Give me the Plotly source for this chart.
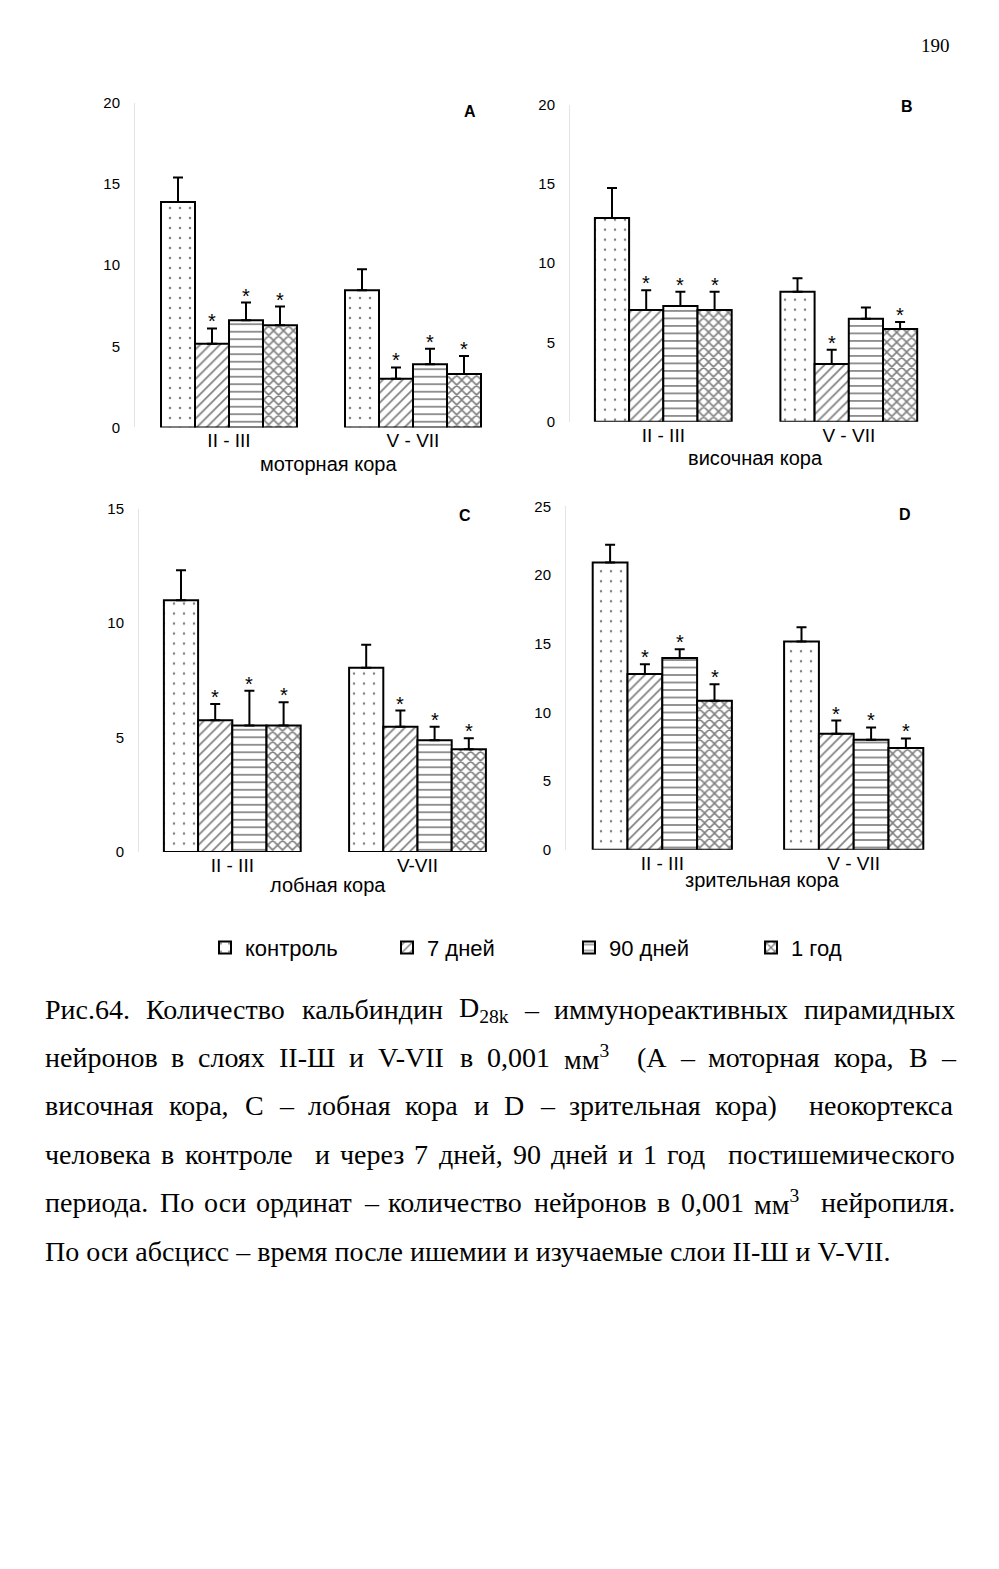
import glob
import re
import struct
import plotly.graph_objects as go

W, H = 999, 1569

# ---------------- data ----------------
layers = ["II-III", "V-VII"]
series_names = ["контроль", "7 дней", "90 дней", "1 год"]

# Panel A – моторная кора (mean, SD)
a_control = [13.9, 8.45]
a_control_err = [1.5, 1.3]
a_d7 = [5.15, 3.0]
a_d7_err = [0.95, 0.7]
a_d90 = [6.6, 3.9]
a_d90_err = [1.1, 0.95]
a_y1 = [6.3, 3.3]
a_y1_err = [1.15, 1.1]
a_stars = [[False, False], [True, True], [True, True], [True, True]]
a_ticks = ["II - III", "V - VII"]

# Panel B – височная кора
b_control = [12.85, 8.2]
b_control_err = [1.9, 0.85]
b_d7 = [7.05, 3.65]
b_d7_err = [1.25, 0.9]
b_d90 = [7.3, 6.5]
b_d90_err = [0.9, 0.7]
b_y1 = [7.05, 5.85]
b_y1_err = [1.15, 0.45]
b_stars = [[False, False], [True, True], [True, False], [True, True]]
b_ticks = ["II - III", "V - VII"]

# Panel C – лобная кора
c_control = [11.0, 8.05]
c_control_err = [1.3, 1.0]
c_d7 = [5.76, 5.47]
c_d7_err = [0.7, 0.71]
c_d90 = [5.53, 4.88]
c_d90_err = [1.51, 0.59]
c_y1 = [5.53, 4.49]
c_y1_err = [1.01, 0.48]
c_stars = [[False, False], [True, True], [True, True], [True, True]]
c_ticks = ["II - III", "V-VII"]

# Panel D – зрительная кора
d_control = [20.9, 15.15]
d_control_err = [1.3, 1.05]
d_d7 = [12.8, 8.45]
d_d7_err = [0.7, 0.95]
d_d90 = [13.95, 8.0]
d_d90_err = [0.65, 0.9]
d_y1 = [10.85, 7.4]
d_y1_err = [1.2, 0.7]
d_stars = [[False, False], [True, True], [True, True], [True, True]]
d_ticks = ["II - III", "V - VII"]

panel_letters = ["A", "B", "C", "D"]
panel_titles = ["моторная кора", "височная кора", "лобная кора", "зрительная кора"]
y_max = [20, 20, 15, 25]

caption_lines = [
    "Рис.64. Количество кальбиндин D<sub>28k</sub> – иммунореактивных пирамидных",
    "нейронов в слоях II-Ш и V-VII в 0,001 мм<sup>3</sup>  (А – моторная кора, В –",
    "височная кора, С – лобная кора и D – зрительная кора)  неокортекса",
    "человека в контроле  и через 7 дней, 90 дней и 1 год  постишемического",
    "периода. По оси ординат – количество нейронов в 0,001 мм<sup>3</sup>  нейропиля.",
    "По оси абсцисс – время после ишемии и изучаемые слои II-Ш и V-VII.",
]
page_number = "190"

# ---------------- style ----------------
SANS = "Liberation Sans, Arial, sans-serif"
SERIF = "Liberation Serif, Times New Roman, serif"
CAP_SIZE = 28
patterns = [
    dict(shape=".", size=10, solidity=0.05, fgcolor="black", bgcolor="white"),
    dict(shape="/", size=7, solidity=0.24, fgcolor="black", bgcolor="white"),
    dict(shape="-", size=7.5, solidity=0.22, fgcolor="black", bgcolor="white"),
    dict(shape="x", size=7, solidity=0.4, fgcolor="black", bgcolor="white"),
]

geom = [
    dict(xl=135, xr=500, c0=229, c1=413, bw=34, y0=423, yt=95),
    dict(xl=570, xr=935, c0=663.3, c1=848.8, bw=34.2, y0=417.3, yt=96.7),
    dict(xl=139, xr=500, c0=232.3, c1=417.5, bw=34.2, y0=852.3, yt=505),
    dict(xl=566, xr=935, c0=662.3, c1=853.7, bw=34.8, y0=850, yt=502.7),
]
letter_pos = [(470, 104), (907, 99), (465, 512), (905, 511)]
title_pos = [(328, 460), (755, 454), (328, 886), (762, 881)]
caption_y = [1011, 1060, 1109, 1158, 1207, 1256]
cap_left, cap_right = 44, 954


def xp(px):
    return px / W


def yp(py):
    return 1 - py / H


# ---- glyph widths of Liberation Serif (for justified caption lines) ----
def load_width_fn():
    paths = []
    for root in ["/usr/share/fonts", "/usr/local/share/fonts", "/usr/share/fonts/truetype"]:
        paths += glob.glob(root + "/**/LiberationSerif-Regular.ttf", recursive=True)
    if not paths:
        return lambda ch: 0.25 if ch == " " else 0.5
    try:
        data = open(paths[0], "rb").read()
        num = struct.unpack(">H", data[4:6])[0]
        tables = {}
        for i in range(num):
            tag, _, off, ln = struct.unpack(">4sIII", data[12 + 16 * i:28 + 16 * i])
            tables[tag.decode("latin1")] = off
        upem = struct.unpack(">H", data[tables["head"] + 18:tables["head"] + 20])[0]
        nhm = struct.unpack(">H", data[tables["hhea"] + 34:tables["hhea"] + 36])[0]
        ho = tables["hmtx"]
        adv = [struct.unpack(">H", data[ho + 4 * i:ho + 4 * i + 2])[0] for i in range(nhm)]
        co = tables["cmap"]
        n = struct.unpack(">H", data[co + 2:co + 4])[0]
        sub = None
        for i in range(n):
            pid, eid, off = struct.unpack(">HHI", data[co + 4 + 8 * i:co + 12 + 8 * i])
            fmt = struct.unpack(">H", data[co + off:co + off + 2])[0]
            if fmt == 4 and pid == 3 and eid == 1:
                sub = co + off
        segx2 = struct.unpack(">H", data[sub + 6:sub + 8])[0]
        seg = segx2 // 2
        ends = struct.unpack(">%dH" % seg, data[sub + 14:sub + 14 + segx2])
        starts = struct.unpack(">%dH" % seg, data[sub + 16 + segx2:sub + 16 + 2 * segx2])
        deltas = struct.unpack(">%dh" % seg, data[sub + 16 + 2 * segx2:sub + 16 + 3 * segx2])
        ro = sub + 16 + 3 * segx2
        rngs = struct.unpack(">%dH" % seg, data[ro:ro + segx2])

        def gid(c):
            for k in range(seg):
                if starts[k] <= c <= ends[k]:
                    if rngs[k] == 0:
                        return (c + deltas[k]) & 0xFFFF
                    addr = ro + 2 * k + rngs[k] + 2 * (c - starts[k])
                    g = struct.unpack(">H", data[addr:addr + 2])[0]
                    return (g + deltas[k]) & 0xFFFF if g else 0
            return 0

        def wfn(ch):
            g = gid(ord(ch))
            return adv[min(g, nhm - 1)] / upem
        return wfn
    except Exception:
        return lambda ch: 0.25 if ch == " " else 0.5


glyph_w = load_width_fn()


def text_width(s, size):
    total = 0.0
    for part in re.split(r"(<su[bp]>.*?</su[bp]>)", s):
        if part.startswith("<su"):
            inner = re.sub(r"</?su[bp]>", "", part)
            total += sum(glyph_w(c) for c in inner) * size * 0.7
        else:
            total += sum(glyph_w(c) for c in part) * size
    return total


panels = [
    ([a_control, a_d7, a_d90, a_y1], [a_control_err, a_d7_err, a_d90_err, a_y1_err], a_stars, a_ticks),
    ([b_control, b_d7, b_d90, b_y1], [b_control_err, b_d7_err, b_d90_err, b_y1_err], b_stars, b_ticks),
    ([c_control, c_d7, c_d90, c_y1], [c_control_err, c_d7_err, c_d90_err, c_y1_err], c_stars, c_ticks),
    ([d_control, d_d7, d_d90, d_y1], [d_control_err, d_d7_err, d_d90_err, d_y1_err], d_stars, d_ticks),
]

fig = go.Figure()
annotations = []
layout_axes = {}

for p, (vals, errs, stars, ticks) in enumerate(panels):
    g = geom[p]
    sp = g["c1"] - g["c0"]
    w = g["bw"] / sp
    xs = "" if p == 0 else str(p + 1)
    for i in range(4):
        fig.add_trace(go.Bar(
            x=layers, y=vals[i], name=series_names[i],
            legendgroup=series_names[i], showlegend=(p == 0),
            width=w, offset=(i - 2) * w,
            marker=dict(color="white", pattern=patterns[i], line=dict(color="black", width=2)),
            error_y=dict(type="data", symmetric=False, array=errs[i],
                         arrayminus=[0] * len(errs[i]), color="black", thickness=2, width=5),
            xaxis="x" + xs, yaxis="y" + xs, hoverinfo="skip",
        ))
        for k in range(len(layers)):
            if stars[i][k]:
                annotations.append(dict(
                    x=k + (i - 1.5) * w, y=vals[i][k] + errs[i][k],
                    xref="x" + xs, yref="y" + xs, text="*", showarrow=False,
                    xanchor="center", yanchor="bottom", yshift=-6,
                    font=dict(family=SANS, size=20, color="black")))
    layout_axes["xaxis" + xs] = dict(
        domain=[xp(g["xl"]), xp(g["xr"])], anchor="y" + xs, type="category",
        range=[(g["xl"] - g["c0"]) / sp, 1 + (g["xr"] - g["c1"]) / sp],
        tickmode="array", tickvals=layers, ticktext=ticks,
        showgrid=False, zeroline=False, showline=False, ticks="",
        tickfont=dict(family=SANS, size=19, color="black"),
    )
    layout_axes["yaxis" + xs] = dict(
        domain=[yp(g["y0"]), yp(g["yt"])], anchor="x" + xs,
        range=[0, y_max[p]], dtick=5, tick0=0,
        showgrid=False, zeroline=False, showline=True, linecolor="#e4e4e4", linewidth=1,
        ticks="", ticklabelstandoff=11,
        tickfont=dict(family=SANS, size=15, color="black"),
    )
    lx, ly = letter_pos[p]
    annotations.append(dict(x=xp(lx), y=yp(ly), xref="paper", yref="paper",
                            text="<b>%s</b>" % panel_letters[p], showarrow=False,
                            xanchor="center", yanchor="middle",
                            font=dict(family=SANS, size=16, color="black")))
    tx, ty = title_pos[p]
    annotations.append(dict(x=xp(tx), y=yp(ty), xref="paper", yref="paper", text=panel_titles[p],
                            showarrow=False, xanchor="center", yanchor="middle",
                            font=dict(family=SANS, size=20, color="black")))

# page number
annotations.append(dict(x=xp(935), y=yp(37), xref="paper", yref="paper", text=page_number,
                        showarrow=False, xanchor="center", yanchor="middle",
                        font=dict(family=SERIF, size=19, color="black")))

# caption: lines 1-5 justified (spaces stretched evenly), last line left-aligned
space_w = glyph_w(" ") * CAP_SIZE
for li, line in enumerate(caption_lines):
    ly = caption_y[li]
    if li == len(caption_lines) - 1:
        annotations.append(dict(x=xp(cap_left), y=yp(ly), xref="paper", yref="paper", text=line,
                                xanchor="left", yanchor="middle", showarrow=False, borderpad=0,
                                font=dict(family=SERIF, size=CAP_SIZE, color="black")))
        continue
    tokens = line.split(" ")
    n_sp = len(tokens) - 1
    natural = sum(text_width(t, CAP_SIZE) for t in tokens) + n_sp * space_w
    gap = space_w + (cap_right - cap_left - natural) / n_sp
    x = cap_left
    for ti, tok in enumerate(tokens):
        if tok:
            annotations.append(dict(x=xp(x), y=yp(ly), xref="paper", yref="paper", text=tok,
                                    xanchor="left", yanchor="middle", showarrow=False, borderpad=0,
                                    font=dict(family=SERIF, size=CAP_SIZE, color="black")))
            x += text_width(tok, CAP_SIZE)
        if ti < n_sp:
            x += gap

fig.update_layout(
    width=W, height=H, margin=dict(l=0, r=0, t=0, b=0),
    paper_bgcolor="white", plot_bgcolor="white",
    barmode="overlay",
    showlegend=True,
    legend=dict(orientation="h", x=xp(205), y=yp(949), xanchor="left", yanchor="middle",
                entrywidth=137, entrywidthmode="pixels",
                font=dict(family=SANS, size=22, color="black"), bgcolor="rgba(0,0,0,0)"),
    annotations=annotations,
    **layout_axes,
)

fig.write_html("out.html", config={"displayModeBar": False},
               post_script="document.body.style.margin='0';")
